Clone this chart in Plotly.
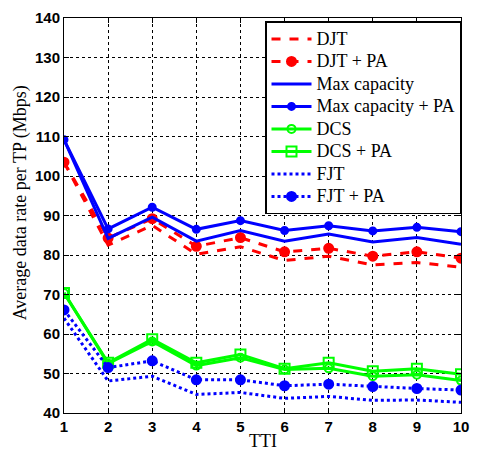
import plotly.graph_objects as go

tti = [1, 2, 3, 4, 5, 6, 7, 8, 9, 10]
djt = [103.5, 82.5, 87.5, 80.2, 82.1, 78.6, 79.7, 77.5, 78.1, 76.9]
djt_pa = [103.5, 84.3, 89.2, 82.2, 84.4, 80.8, 81.7, 79.7, 80.8, 79.2]
maxcap = [109.2, 84.2, 89.6, 83.5, 86.2, 83.5, 85.3, 83.3, 84.4, 82.7]
maxcap_pa = [109.2, 86.6, 92.1, 86.5, 88.7, 86.2, 87.4, 86.1, 87.0, 85.9]
dcs = [70.4, 52.5, 58.1, 52.0, 54.0, 51.0, 51.3, 49.3, 49.7, 48.2]
dcs_pa = [70.4, 52.7, 58.7, 52.7, 54.8, 51.2, 52.7, 50.6, 51.2, 49.8]
fjt = [64.0, 48.1, 49.3, 44.7, 45.2, 43.7, 44.2, 43.2, 43.3, 42.7]
fjt_pa = [66.1, 51.5, 53.2, 48.4, 48.4, 46.9, 47.3, 46.7, 46.2, 45.8]
y_ticks = [40, 50, 60, 70, 80, 90, 100, 110, 120, 130, 140]

RED, BLUE, GREEN = "#ff0000", "#0000ff", "#00ff00"
SERIF = "Times New Roman, Liberation Serif, serif"

fig = go.Figure()
def add(name, y, color, dash, marker=None, msize=8, mfill=None):
    mode = "lines+markers" if marker else "lines"
    mk = dict(symbol=marker or "circle", size=msize, color=mfill if mfill else color,
              line=dict(color=color, width=2))
    label = "<span style='font-size:18px'>%s</span>" % name
    fig.add_trace(go.Scatter(x=tti, y=y, name=label, mode=mode,
                             line=dict(color=color, width=3, dash=dash), marker=mk))

add("DJT", djt, RED, "dash")
add("DJT + PA", djt_pa, RED, "dash", "circle", 9)
add("Max capacity", maxcap, BLUE, "solid")
add("Max capacity + PA", maxcap_pa, BLUE, "solid", "circle", 7)
add("DCS", dcs, GREEN, "solid", "circle", 8, "rgba(255,255,255,0)")
add("DCS + PA", dcs_pa, GREEN, "solid", "square", 10, "rgba(255,255,255,0)")
add("FJT", fjt, BLUE, "dot")
add("FJT + PA", fjt_pa, BLUE, "dot", "circle", 9)

axis_common = dict(showgrid=True, gridcolor="black", griddash="dot", gridwidth=1,
                   showline=True, linecolor="black", linewidth=1, mirror="ticks",
                   ticks="inside", ticklen=5, tickcolor="black", zeroline=False,
                   tickfont=dict(family="Liberation Sans, Arial", size=15, color="black", weight="bold"))

fig.update_xaxes(range=[1, 10], tickvals=tti, **axis_common)
fig.update_yaxes(range=[40, 140], tickvals=y_ticks, **axis_common)

fig.add_annotation(text="Average data rate per TP (Mbps)", xref="paper", yref="paper",
                   x=-0.1086, y=0.533, xanchor="center", yanchor="middle", textangle=-90,
                   showarrow=False, font=dict(family=SERIF, size=18, color="black"))
fig.add_annotation(text="TTI", xref="paper", yref="paper",
                   x=0.5, y=-0.070, xanchor="center", yanchor="middle",
                   showarrow=False, font=dict(family=SERIF, size=18, color="black"))

fig.update_layout(
    width=478, height=450,
    margin=dict(l=64, r=9, t=15, b=37),
    plot_bgcolor="white", paper_bgcolor="white",
    legend=dict(x=1.0, y=0.992, xanchor="right", yanchor="top",
                bgcolor="white", bordercolor="black", borderwidth=1.5,
                font=dict(family=SERIF, size=15, color="black"),
                itemwidth=40, tracegroupgap=0),
)

fig.write_html("out.html", config={"displayModeBar": False},
               post_script="document.body.style.margin='0';")
